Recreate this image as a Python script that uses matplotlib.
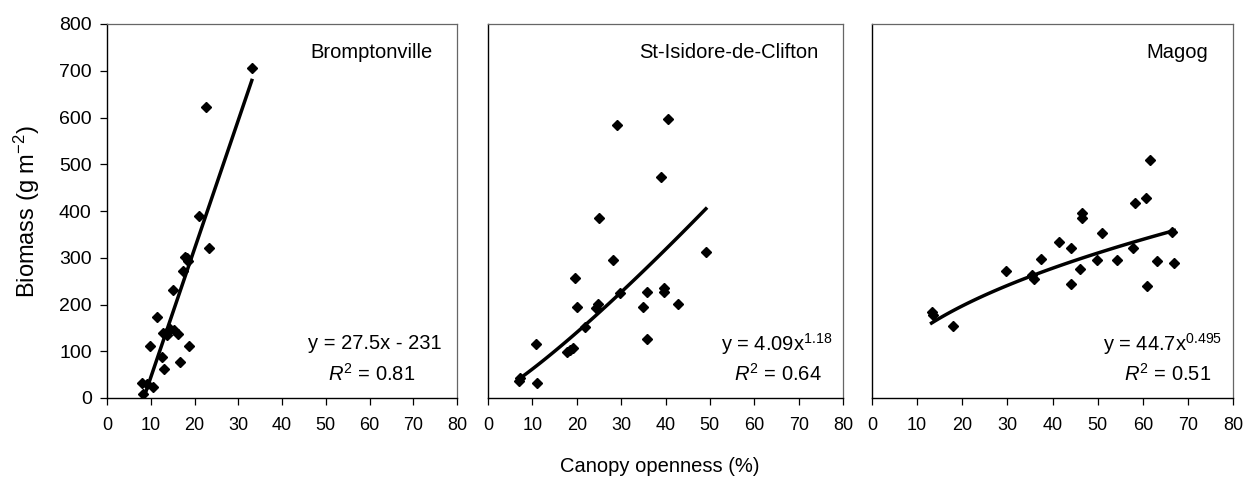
import numpy as np
import matplotlib
matplotlib.use("Agg")
import matplotlib.pyplot as plt

plt.rcParams["font.family"] = ["Liberation Sans", "DejaVu Sans"]
plt.rcParams["mathtext.fontset"] = "custom"
plt.rcParams["mathtext.rm"] = "Liberation Sans"
plt.rcParams["mathtext.it"] = "Liberation Sans:italic"

# Canopy openness (%) and biomass (g m-2) for each site
brompton_x = [33.1, 22.6, 21.1, 23.2, 18.2, 17.9, 18.5, 17.3, 15.0, 11.5,
              12.9, 14.5, 15.3, 16.2, 13.8, 9.8, 18.8, 12.5, 16.7, 13.0,
              8.1, 9.2, 10.6, 8.3]
brompton_y = [706, 623, 390, 320, 299, 302, 292, 272, 231, 174,
              140, 148, 145, 137, 135, 111, 111, 88, 77, 63,
              32, 30, 24, 8]

isidore_x = [40.5, 29.0, 39.0, 25.0, 49.1, 28.1, 19.5, 39.7, 39.7, 35.8,
             29.7, 42.9, 24.9, 24.3, 20.0, 34.9, 21.9, 35.9, 10.8, 19.2,
             18.4, 17.7, 7.2, 7.0, 11.0]
isidore_y = [597, 584, 472, 386, 313, 295, 256, 235, 226, 226,
             224, 202, 202, 192, 194, 194, 151, 126, 115, 108,
             103, 99, 42, 37, 33]

magog_x = [61.6, 60.8, 58.3, 46.5, 46.5, 50.9, 66.4, 41.5, 44.1, 57.9,
           37.5, 49.8, 54.4, 63.2, 67.0, 29.8, 46.0, 35.4, 35.9, 44.1,
           61.0, 13.2, 13.5, 18.0]
magog_y = [509, 427, 418, 396, 384, 352, 356, 333, 320, 320,
           298, 295, 295, 292, 288, 272, 277, 263, 255, 243,
           240, 183, 178, 153]

sites = ["Bromptonville", "St-Isidore-de-Clifton", "Magog"]
x_ticks = [0, 10, 20, 30, 40, 50, 60, 70, 80]
y_ticks = [0, 100, 200, 300, 400, 500, 600, 700, 800]

# Fitted regressions
lin_a, lin_b = 27.5, -231          # Bromptonville: y = a x + b
pow_isidore = (4.09, 1.18)         # y = c x^k
pow_magog = (44.7, 0.495)
r2_values = [0.81, 0.64, 0.51]
eq_texts = ["y = 27.5x - 231",
            r"y = 4.09x$^{\mathregular{1.18}}$",
            r"y = 44.7x$^{\mathregular{0.495}}$"]

W, H = 1248, 488
fig = plt.figure(figsize=(W / 100, H / 100), dpi=100)
panels_px = [(107, 350), (488, 355), (872, 361)]
bottom_px, top_px = 398, 24

axes = []
for left, width in panels_px:
    ax = fig.add_axes([left / W, 1 - bottom_px / H, width / W,
                       (bottom_px - top_px) / H])
    axes.append(ax)

data = [(brompton_x, brompton_y), (isidore_x, isidore_y), (magog_x, magog_y)]

for i, (ax, (xs, ys)) in enumerate(zip(axes, data)):
    ax.plot(xs, ys, linestyle="none", marker="D", markersize=5.0,
            color="black", zorder=3)
    xs_arr = np.array(xs)
    if i == 0:
        x0 = -lin_b / lin_a
        fx = np.linspace(x0, max(xs), 50)
        fy = lin_a * fx + lin_b
    else:
        c, k = pow_isidore if i == 1 else pow_magog
        fx = np.linspace(xs_arr.min(), xs_arr.max(), 100)
        fy = c * fx ** k
    ax.plot(fx, fy, color="black", linewidth=2.5, zorder=2)

    ax.set_xlim(0, 80)
    ax.set_ylim(0, 800)
    ax.set_xticks(x_ticks)
    ax.set_xticklabels([str(t) for t in x_ticks], fontsize=13)
    ax.tick_params(axis="x", direction="out", length=5, width=0.9, pad=9)
    if i == 0:
        ax.set_yticks(y_ticks)
        ax.set_yticklabels([str(t) for t in y_ticks], fontsize=14)
        ax.tick_params(axis="y", direction="out", length=5, width=0.9, pad=6)
    else:
        ax.set_yticks([])
    for side in ("left", "bottom"):
        ax.spines[side].set_color("black")
        ax.spines[side].set_linewidth(1.0)
    for side in ("top", "right"):
        ax.spines[side].set_color("#666666")
        ax.spines[side].set_linewidth(0.9)

    ax.text(0.93, 0.925, sites[i], transform=ax.transAxes, ha="right",
            va="center", fontsize=14.5)
    ax.text(0.955 if i == 0 else 0.97, 0.145, eq_texts[i],
            transform=ax.transAxes, ha="right", va="center", fontsize=14.5)
    ax.text(0.88 if i == 0 else 0.94, 0.065,
            r"$\mathit{R}^{\mathregular{2}}$ = " + f"{r2_values[i]:.2f}",
            transform=ax.transAxes, ha="right", va="center", fontsize=14.5)

fig.text(27 / W, 1 - 212 / H, r"Biomass (g m$^{\mathregular{-2}}$)",
         rotation=90, ha="center", va="center", fontsize=17)
fig.text(660 / W, 1 - 466 / H, "Canopy openness (%)", ha="center",
         va="center", fontsize=14.5)

fig.savefig("out.png", dpi=100)
